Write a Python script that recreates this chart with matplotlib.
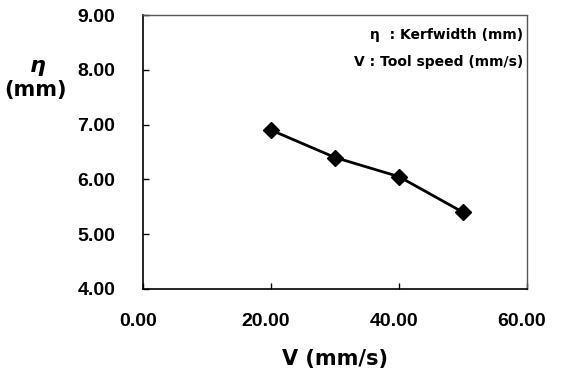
import matplotlib
matplotlib.use("Agg")
import matplotlib.pyplot as plt
import matplotlib.transforms as mtransforms

# 공구 속도 V (mm/s) 와 절단폭 eta (mm)
speed = [20, 30, 40, 50]
kerf = [6.9, 6.4, 6.05, 5.4]
xticks = [0, 20, 40, 60]
yticks = [4, 5, 6, 7, 8, 9]

plt.rcParams['font.family'] = ['Liberation Sans', 'DejaVu Sans']
plt.rcParams['font.weight'] = 'bold'

fig = plt.figure(figsize=(5.66, 3.69), dpi=100)
ax = fig.add_axes([0.253, 0.217, 0.678, 0.742])

ax.plot(speed, kerf, color='black', lw=2, marker='D', ms=8)

ax.set_xlim(0, 60)
ax.set_ylim(4, 9)
ax.set_xticks(xticks)
ax.set_yticks(yticks)
ax.set_xticklabels(['%.2f' % v for v in xticks], fontsize=14, fontweight='bold')
ax.set_yticklabels(['%.2f' % v for v in yticks], fontsize=14, fontweight='bold')
ax.tick_params(axis='y', direction='in', length=4, width=1, pad=20)
ax.tick_params(axis='x', direction='in', length=4, width=1, pad=17)

# x 라벨은 원본에서 약간 왼쪽으로 치우쳐 있음
shift = mtransforms.ScaledTranslation(-0.05, 0, fig.dpi_scale_trans)
for lab in ax.get_xticklabels():
    lab.set_transform(lab.get_transform() + shift)

for side in ['top', 'right']:
    ax.spines[side].set_linestyle((0, (1, 1)))
    ax.spines[side].set_color('#555555')
    ax.spines[side].set_linewidth(1)
for side in ['left', 'bottom']:
    ax.spines[side].set_linewidth(1.2)

ax.set_xlabel('V (mm/s)', fontsize=15, fontweight='bold', labelpad=14,
              family='DejaVu Sans')
fig.text(0.067, 0.818, r'$\eta$', fontsize=16, ha='center', va='center')
fig.text(0.062, 0.756, '(mm)', fontsize=15, fontweight='bold', ha='center',
         va='center', family='DejaVu Sans')

ax.text(0.99, 0.927, 'η  : Kerfwidth (mm)', transform=ax.transAxes,
        ha='right', va='center', fontsize=10, fontweight='bold', family='DejaVu Sans')
ax.text(0.99, 0.828, 'V : Tool speed (mm/s)', transform=ax.transAxes,
        ha='right', va='center', fontsize=10, fontweight='bold', family='DejaVu Sans')

fig.savefig('out.png', dpi=100)
